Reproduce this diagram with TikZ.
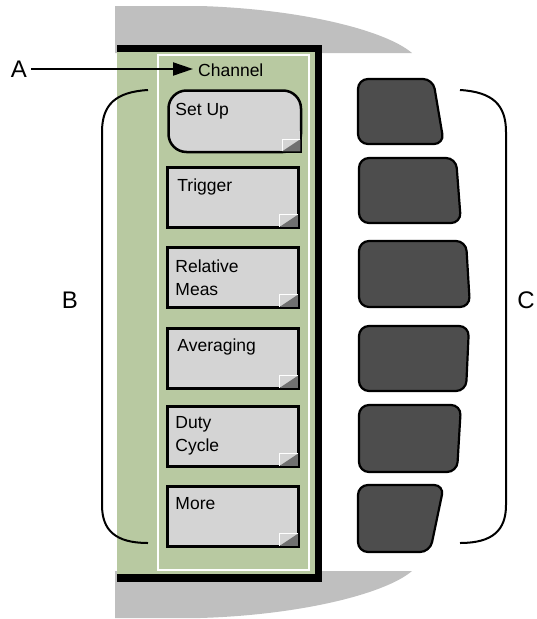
\documentclass[tikz,border=0pt]{standalone}
\usepackage{fontspec}
\setmainfont{Liberation Sans}
\usetikzlibrary{arrows.meta}
\definecolor{panelgreen}{RGB}{184,201,161}
\definecolor{housinggray}{RGB}{191,191,191}
\definecolor{keygray}{RGB}{212,212,212}
\definecolor{hardkey}{RGB}{77,77,77}
\definecolor{cornergray}{RGB}{112,112,112}
\begin{document}
\begin{tikzpicture}[x=1pt,y=-1pt,
  softkey/.style={draw=black, line width=2.5pt, fill=keygray, minimum width=131pt,
    minimum height=60pt, inner sep=0pt, anchor=north west},
  keytext/.style={font=\fontsize{17.5}{23}\selectfont, align=left, inner sep=0pt, anchor=north west},
  biglabel/.style={font=\fontsize{24}{28}\selectfont, inner sep=4pt},
  hardbtn/.style={draw=black, line width=2.2pt, fill=hardkey, rounded corners=10pt},
  bracket/.style={draw=black, line width=2pt}]
\useasboundingbox (0,0) rectangle (536,619);
% grey housing
\fill[housinggray] (115,6) -- (200,6) .. controls (300,9) and (385,30) .. (412,53) -- (115,53) -- cycle;
\fill[housinggray] (115,618) -- (200,618) .. controls (300,615) and (385,594) .. (412,571) -- (115,571) -- cycle;
% panel
\fill[black] (117,45) rectangle (322,582);
\fill[panelgreen] (117,52) rectangle (315,574);
\draw[white, line width=1.5pt] (158,55) rectangle (309,570);
% softkeys
\node[softkey, rounded corners=18pt, minimum width=132.5pt, minimum height=61.5pt] (k1) at (167.25,89.25) {};
\fill[keygray] ([shift={(-22,-22)}]k1.south east) rectangle (k1.south east);
\draw[line width=2.5pt] ([shift={(-1.25,-26)}]k1.south east) |- ([shift={(-26,-1.25)}]k1.south east);
\node[softkey] (k2) at (166.25,166.25) {};
\node[softkey] (k3) at (166.25,246.25) {};
\node[softkey] (k4) at (166.25,327.25) {};
\node[softkey] (k5) at (166.25,405.25) {};
\node[softkey] (k6) at (166.25,485.25) {};
\foreach \k in {k1,k2,k3,k4,k5,k6}{
  \fill[cornergray] ([shift={(-20,-2)}]\k.south east) -- ([shift={(-2,-14)}]\k.south east)
     -- ([shift={(-2,-2)}]\k.south east) -- cycle;
  \draw[white, line width=0.9pt] ([shift={(-20,-2)}]\k.south east) -- ([shift={(-20,-14)}]\k.south east)
     -- ([shift={(-2,-14)}]\k.south east);
}
\node[keytext] (t1) at ([shift={(8,14)}]k1.north west) {Set Up};
\node[keytext] (t2) at ([shift={(11,12)}]k2.north west) {Trigger};
\node[keytext] (t3) at ([shift={(9,13)}]k3.north west) {Relative\\Meas};
\node[keytext] (t4) at ([shift={(11,11)}]k4.north west) {Averaging};
\node[keytext] (t5) at ([shift={(9,11)}]k5.north west) {Duty\\Cycle};
\node[keytext] (t6) at ([shift={(9,12)}]k6.north west) {More};
% channel label and arrow
\node[keytext, anchor=base west, inner sep=0pt] (ch) at (198,76) {Channel};
\node[biglabel] (A) at (19,69) {A};
\draw[line width=2pt, -{Triangle[length=20pt,width=13pt]}] (A.east) -- ([xshift=-5pt]A.east -| ch.west);
% hard keys
\draw[hardbtn] (395,79) -- (433,79) -- (444,144) -- (358,144) -- (358,79) -- cycle;
\draw[hardbtn] (405,158) -- (456,158) -- (461,223) -- (359,223) -- (359,158) -- cycle;
\draw[hardbtn] (410,241) -- (466,241) -- (470,307) -- (359,307) -- (359,241) -- cycle;
\draw[hardbtn] (410,326) -- (469,326) -- (466,391) -- (359,391) -- (359,326) -- cycle;
\draw[hardbtn] (405,405) -- (461,405) -- (457,472) -- (359,472) -- (359,405) -- cycle;
\draw[hardbtn] (395,485) -- (444,485) -- (430,552) -- (358,552) -- (358,485) -- cycle;
% brackets
\draw[bracket] (148,90) .. controls (115,92) and (102,105) .. (102,132) -- (102,505)
  .. controls (102,530) and (115,543) .. (148,543);
\draw[bracket] (460,90) .. controls (493,92) and (506,105) .. (506,132) -- (506,505)
  .. controls (506,530) and (493,543) .. (460,543);
\node[biglabel] (B) at (70,300) {B};
\node[biglabel, anchor=east, inner sep=0pt] (C) at (535,300) {C};
\end{tikzpicture}
\end{document}
